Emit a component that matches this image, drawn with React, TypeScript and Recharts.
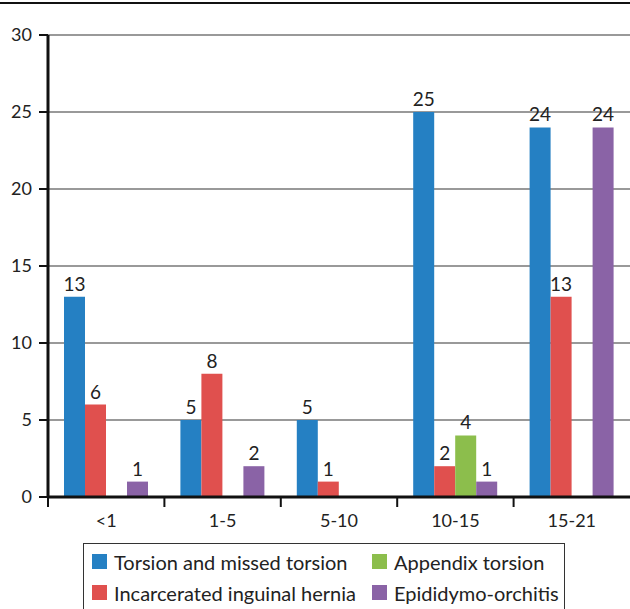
import {
  BarChart,
  Bar,
  XAxis,
  YAxis,
  CartesianGrid,
  LabelList,
} from "recharts";

const ageGroups = ["<1", "1-5", "5-10", "10-15", "15-21"];
const torsion = [13, 5, 5, 25, 24];
const hernia = [6, 8, 1, 2, 13];
const appendix = [null, null, null, 4, null];
const epididymo = [1, 2, null, 1, 24];
const yTicks = [0, 5, 10, 15, 20, 25, 30];

const series = [
  { key: "torsion", name: "Torsion and missed torsion", color: "#2580C3" },
  { key: "hernia", name: "Incarcerated inguinal hernia", color: "#E0504E" },
  { key: "appendix", name: "Appendix torsion", color: "#8CBE4C" },
  { key: "epididymo", name: "Epididymo-orchitis", color: "#8A63A6" },
];

const data = ageGroups.map((g, i) => ({
  group: g,
  torsion: torsion[i],
  hernia: hernia[i],
  appendix: appendix[i],
  epididymo: epididymo[i],
}));

const FONT = "Lato, 'Open Sans', sans-serif";
const W = 630;
const LEFT = 48;
const BAND = (W - LEFT) / ageGroups.length;

const XTick = (props: any) => {
  const { x, y, payload } = props;
  return (
    <g>
      <line x1={x - BAND / 2} y1={y - 8} x2={x - BAND / 2} y2={y + 2} stroke="#111" strokeWidth={2} />
      <text x={x} y={y + 22} textAnchor="middle" fontSize={18} fill="#222" fontFamily={FONT}>
        {payload.value}
      </text>
    </g>
  );
};

const Legend = () => (
  <div
    style={{
      position: "absolute",
      left: 83,
      top: 543,
      width: 482,
      height: 70,
      border: "1.5px solid #333",
      boxSizing: "border-box",
      fontFamily: FONT,
      fontSize: 20,
      color: "#222",
      display: "grid",
      gridTemplateColumns: "280px 195px",
      gridTemplateRows: "31px 31px",
      padding: "2px 0 0 8px",
    }}
  >
    {[series[0], series[2], series[1], series[3]].map((s) => (
      <div key={s.key} style={{ display: "flex", alignItems: "center", whiteSpace: "nowrap" }}>
        <span style={{ width: 15, height: 15, background: s.color, marginRight: 7, display: "inline-block", flexShrink: 0 }} />
        {s.name}
      </div>
    ))}
  </div>
);

export default function App() {
  return (
    <div style={{ position: "absolute", left: 0, top: 0, width: W, height: 609, background: "#fff", overflow: "hidden" }}>
      <div style={{ position: "absolute", left: 0, top: 2, width: W, height: 2, background: "#111" }} />
      <BarChart
        width={W}
        height={540}
        data={data}
        margin={{ top: 35, right: 0, left: 0, bottom: 0 }}
        barSize={21}
        barGap={0}
      >
        <CartesianGrid vertical={false} stroke="#999" strokeWidth={2} />
        <XAxis
          dataKey="group"
          height={43}
          tick={<XTick />}
          tickLine={false}
          axisLine={{ stroke: "#111", strokeWidth: 3 }}
          interval={0}
        />
        <YAxis
          width={LEFT}
          domain={[0, 30]}
          ticks={yTicks}
          tickSize={9}
          tickMargin={7}
          tick={{ fontSize: 18, fill: "#222", fontFamily: FONT }}
          tickLine={{ stroke: "#111", strokeWidth: 2 }}
          axisLine={{ stroke: "#111", strokeWidth: 3 }}
        />
        {series.map((s) => (
          <Bar key={s.key} dataKey={s.key} name={s.name} fill={s.color} isAnimationActive={false}>
            <LabelList
              dataKey={s.key}
              position="top"
              offset={6}
              fill="#222"
              fontSize={19}
              fontFamily={FONT}
            />
          </Bar>
        ))}
      </BarChart>
      <Legend />
    </div>
  );
}
